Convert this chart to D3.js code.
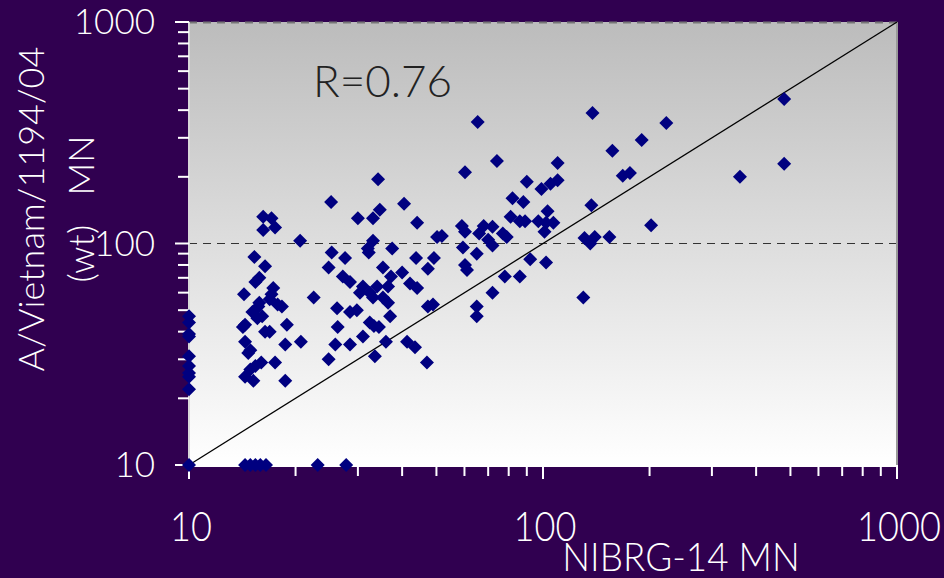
<!DOCTYPE html>
<html><head><meta charset="utf-8">
<script src="https://cdn.jsdelivr.net/npm/d3@7"></script>
<style>
html,body{margin:0;padding:0;background:#300050;}
svg{display:block;}
text{font-family:Lato,"Open Sans",sans-serif;font-weight:300;}
</style></head>
<body>
<svg id="chart" width="944" height="578"></svg>
<script>
// NIBRG-14 MN titres (x) vs A/Vietnam/1194/04 (wt) MN titres (y)
const xValues = [
 10,10,10,10,10,10,10,10,10,10,
 14.4,14.9,15.4,15.9,16.5,23.1,27.8,
 16.2,17.1,16.2,17.5,20.6,15.3,16.4,15.8,15.4,14.3,17.3,17.1,16.9,17.8,18.3,15.8,15.7,15.1,16.1,15.6,14.4,14.2,16.4,16.9,18.9,14.4,14.9,14.7,18.7,20.7,16.0,15.4,14.9,14.4,15.2,17.5,18.7,22.5,
 25.2,30,34.2,34.6,33.1,40.5,44.1,50.2,51.8,60.2,59,60.2,33.1,32.0,32.2,37.5,25.3,27.6,24.8,43.8,49.2,47.3,35.3,59.4,60.2,61,27.2,28.5,37.2,40,42.1,44.1,31,30.4,32.4,34,33.1,36.5,35.3,36.5,26.2,28.5,29.8,47.3,48.9,26.3,32.4,33.3,34.4,37,25.9,28.5,31,36,24.8,33.5,41.3,43.5,47,
 65.4,74.1,138,157,190,223,110,90,99,105,110,82,88,81,86,89,103,97,102,107,101,137,68,66,72,77,79,70,72,131,140,136,154,168,176,480,360,480,202,65,92,102,78,86,72,65,65,130
];
const yValues = [
 47,44,39,38,31,28,26,25,22,10,
 10,10,10,10,10,10,10,
 132,130,115,118,103,87,79,70,67,59,63,59,56,53,52,54,52,49,47,46,43,42,40,40,43,36,33,32,35,36,29,28,27,25,24,29,24,57,
 154,130,195,142,130,151,124,107,108,210,120,113,103,95,91,95,91,86,78,86,86,77,78,96,80,76,71,67,71,74,66,63,64,60,60,64,57,64,57,54,51,49,50,52,53,42,44,42.4,42,47,35,35,38,36,30,31,36,34,29,
 354,236,388,262,293,350,231,190,176,186,193,160,154,132,126,126,140,126,124,124,113,149,120,111,119,111,107,104,98,106,107,100,107,202,208,449,200,229,121,90,85,82,71,71,60,52,47,57
];
const xTickLabels = ["10","100","1000"];
const yTickLabels = ["10","100","1000"];
const xTitle = "NIBRG-14 MN";
const yTitleLines = ["A/Vietnam/1194/04", "(wt)\u00a0\u00a0\u00a0MN"];
const rText = "R=0.76";

const svg = d3.select("#chart");
const W = 944, H = 578;
const L = 189, R = 897, T = 22, B = 465;

svg.append("rect").attr("width", W).attr("height", H).attr("fill", "#300050");

const x = d3.scaleLog().domain([10, 1000]).range([L, R]);
const y = d3.scaleLog().domain([10, 1000]).range([B, T]);

const defs = svg.append("defs");
const grad = defs.append("linearGradient").attr("id", "bg").attr("x1", 0).attr("y1", 0).attr("x2", 0).attr("y2", 1);
grad.append("stop").attr("offset", "0%").attr("stop-color", "#bcbcbc");
grad.append("stop").attr("offset", "100%").attr("stop-color", "#ffffff");

svg.append("rect").attr("x", L).attr("y", T).attr("width", R - L).attr("height", B - T).attr("fill", "url(#bg)");

// dashed gridlines at 100 and 1000
svg.append("line").attr("x1", L).attr("x2", R).attr("y1", y(100)).attr("y2", y(100))
  .attr("stroke", "#333").attr("stroke-width", 1).attr("stroke-dasharray", "8,6");
svg.append("line").attr("x1", L).attr("x2", R).attr("y1", y(1000) + 0.5).attr("y2", y(1000) + 0.5)
  .attr("stroke", "#777").attr("stroke-width", 2).attr("stroke-dasharray", "8,6");
// right border
svg.append("line").attr("x1", R).attr("x2", R).attr("y1", T).attr("y2", B)
  .attr("stroke", "#999").attr("stroke-width", 2);

// identity line
svg.append("line").attr("x1", x(10)).attr("y1", y(10)).attr("x2", x(1000)).attr("y2", y(1000))
  .attr("stroke", "#000").attr("stroke-width", 1.3);

// axes
const majors = [10, 100, 1000];
const allTicks = [];
for (const dec of [10, 100]) for (let k = 1; k <= 9; k++) allTicks.push(dec * k);
allTicks.push(1000);

const xAxis = svg.append("g").attr("transform", `translate(0,${B})`);
xAxis.append("line").attr("x1", L).attr("x2", R).attr("y1", 1).attr("y2", 1).attr("stroke", "#fff").attr("stroke-width", 2);
xAxis.selectAll("line.t").data(allTicks).join("line").attr("class", "t")
  .attr("x1", d => x(d)).attr("x2", d => x(d)).attr("y1", 0)
  .attr("y2", d => majors.includes(d) ? 14 : 11)
  .attr("stroke", "#fff").attr("stroke-width", 2);
xAxis.selectAll("text").data(majors).join("text")
  .attr("transform", d => `translate(${x(d) + 2},${76}) scale(0.86,1)`)
  .attr("text-anchor", "middle").attr("fill", "#fff").attr("font-size", 42)
  .text((d, i) => xTickLabels[i]);

const yAxis = svg.append("g").attr("transform", `translate(${L},0)`);
yAxis.append("line").attr("x1", 0).attr("x2", 0).attr("y1", T).attr("y2", B).attr("stroke", "#d8d8d8").attr("stroke-width", 2);
yAxis.selectAll("line.t").data(allTicks).join("line").attr("class", "t")
  .attr("y1", d => y(d)).attr("y2", d => y(d)).attr("x1", 0)
  .attr("x2", d => majors.includes(d) ? -14 : -11)
  .attr("stroke", "#fff").attr("stroke-width", 2);
yAxis.selectAll("text").data(majors).join("text")
  .attr("x", -34).attr("y", d => y(d) + 12)
  .attr("text-anchor", "end").attr("fill", "#fff").attr("font-size", 35)
  .text((d, i) => yTickLabels[i]);

// points (drawn over axes)
const r = 7;
const diamond = `M0,${-r}L${r},0L0,${r}L${-r},0Z`;
svg.append("g").selectAll("path").data(xValues.map((v, i) => [v, yValues[i]])).join("path")
  .attr("d", diamond)
  .attr("transform", d => `translate(${x(d[0])},${y(d[1])})`)
  .attr("fill", "#000080");

// titles
svg.append("text").attr("transform", "translate(681,571) scale(0.92,1)")
  .attr("text-anchor", "middle").attr("fill", "#fff").attr("font-size", 40).text(xTitle);

const yt = svg.append("text").attr("transform", "translate(44,209) rotate(-90)")
  .attr("text-anchor", "middle").attr("fill", "#fff").attr("font-size", 36);
yTitleLines.forEach((s, i) => yt.append("tspan").attr("x", 0).attr("dy", i === 0 ? 0 : 50).text(s));

svg.append("text").attr("x", 313).attr("y", 97).attr("fill", "#222").attr("font-size", 44).text(rText);
</script>
</body></html>
